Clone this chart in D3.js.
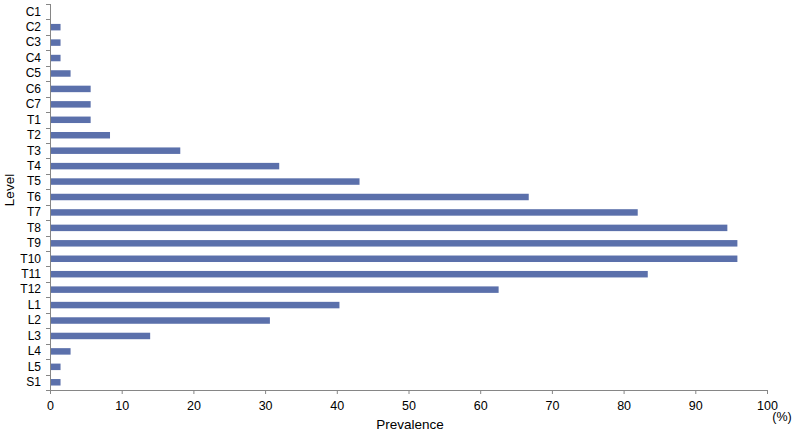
<!DOCTYPE html>
<html><head><meta charset="utf-8">
<script src="https://cdn.jsdelivr.net/npm/d3@7"></script>
<style>
body{margin:0;background:#fff;}
svg text{font-family:"Liberation Sans",Arial,sans-serif;fill:#000;}
</style></head>
<body>
<svg id="chart" width="795" height="435"></svg>
<script>
const levels = ["C1","C2","C3","C4","C5","C6","C7","T1","T2","T3","T4","T5","T6","T7","T8","T9","T10","T11","T12","L1","L2","L3","L4","L5","S1"];
const prevalence = [0,1.4,1.4,1.4,2.8,5.6,5.6,5.6,8.3,18.1,31.9,43.1,66.7,81.9,94.4,95.8,95.8,83.3,62.5,40.3,30.6,13.9,2.8,1.4,1.4];
const xTicks = [0,10,20,30,40,50,60,70,80,90,100];

(function(){
const svg = d3.select("#chart");
const mL = 50, mR = 767, mT = 4, mB = 390;
const x = d3.scaleLinear().domain([0,100]).range([mL,mR]);
const y = d3.scaleBand().domain(levels).range([mT,mB]).paddingInner(0.58).paddingOuter(0.29);
const axisColor = "#868686";

svg.append("g").selectAll("rect").data(levels).join("rect")
  .attr("x", x(0)+0.5)
  .attr("y", d => y(d))
  .attr("width", (d,i) => Math.max(0, x(prevalence[i]) - x(0)))
  .attr("height", y.bandwidth())
  .attr("fill", "#5B70AB");

// x axis
const xa = svg.append("g").attr("transform", `translate(0,${mB})`)
  .call(d3.axisBottom(x).tickValues(xTicks).tickSize(4).tickPadding(5));
xa.select(".domain").attr("stroke", axisColor);
xa.selectAll(".tick line").attr("stroke", axisColor);
xa.selectAll(".tick text").attr("font-size", 12.5).attr("dy","0.9em");

// y axis
const ya = svg.append("g").attr("transform", `translate(${mL},0)`)
  .call(d3.axisLeft(y).tickSize(0).tickPadding(9));
ya.select(".domain").attr("stroke", axisColor).attr("d", `M0.5,${mT}V${mB}`);
ya.selectAll(".tick text").attr("font-size", 12);
// boundary ticks
const bounds = d3.range(levels.length+1).map(i => mT + i*(mB-mT)/levels.length);
ya.selectAll(".bt").data(bounds).join("line")
  .attr("x1", -4).attr("x2", 0)
  .attr("y1", d => Math.round(d)+0.5).attr("y2", d => Math.round(d)+0.5)
  .attr("stroke", axisColor);

svg.append("text").attr("x", 410).attr("y", 429).attr("text-anchor","middle")
  .attr("font-size", 13.5).text("Prevalence");
svg.append("text").attr("x", 782).attr("y", 421).attr("text-anchor","middle")
  .attr("font-size", 12.5).text("(%)");
svg.append("text").attr("transform","translate(14,190) rotate(-90)").attr("text-anchor","middle")
  .attr("font-size", 13.5).text("Level");
})();
</script>
</body></html>
